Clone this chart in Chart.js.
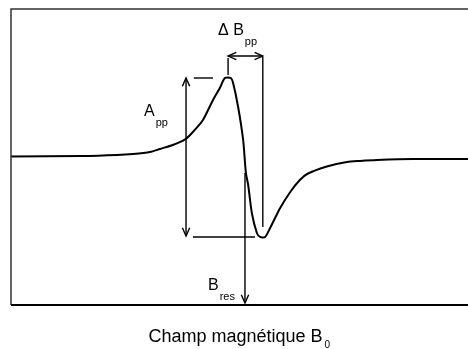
<!DOCTYPE html>
<html>
<head>
<meta charset="utf-8">
<script src="https://cdn.jsdelivr.net/npm/chart.js@4"></script>
<style>
  html, body { margin: 0; padding: 0; background: #fff; }
  #wrap { width: 468px; height: 349px; }
</style>
</head>
<body>
<div id="wrap"><canvas id="eprChart"></canvas></div>
<script>
// champ (unités arbitraires) et signal dérivé
const fieldValues = [0, 15.5, 23.2, 26.7, 30.4, 32.6, 35.4, 38.1, 39.8, 42.0, 44.2, 45.7, 46.8, 48.1,
    48.6, 49.7, 50.8, 51.4, 51.9, 52.7, 53.8, 54.5, 55.6, 56.7, 58.9, 61.1, 63.2, 64.8, 69.1, 73.5,
    76.4, 80.1, 88.0, 100];
const signalValues = [0, 0.006, 0.019, 0.032, 0.057, 0.096, 0.146, 0.217, 0.312, 0.465, 0.72, 0.873, 1.0, 1.0,
    0.936, 0.631, 0.21, -0.21, -0.363, -0.72, -0.975, -1.025, -1.025, -0.91, -0.656, -0.452, -0.30, -0.223, -0.127, -0.07,
    -0.057, -0.045, -0.032, -0.032];

// traits d'annotation : [x1, y1, x2, y2, flèche début, flèche fin]
const guideLines = [
    [38.3, 1.0, 38.3, -1.013, true, true],     // A_pp
    [40.0, 1.0, 44.2, 1.0, false, false],      // repère haut
    [39.8, -1.025, 53.4, -1.025, false, false],// repère bas
    [47.5, 1.255, 47.5, 1.038, false, false],  // petit trait ΔBpp
    [55.1, 1.268, 55.1, -0.898, false, false], // trait vertical ΔBpp
    [47.5, 1.28, 55.1, 1.28, true, true],      // ΔBpp
    [51.2, -0.21, 51.2, -1.866, false, true]   // B_res
];
// étiquettes : [texte, indice, x, y]
const guideLabels = [
    ['A', 'pp', 29.1, 0.517],
    ['\u0394 B', 'pp', 45.3, 1.552],
    ['B', 'res', 43.1, -1.695]
];
const axisTitle = ['Champ magn\u00e9tique B', '0'];

const font = '"Liberation Sans", Arial, sans-serif';

function arrowHead(g, x1, y1, x2, y2) {
    const a = Math.atan2(y2 - y1, x2 - x1);
    const len = 9, spread = 0.42;
    g.beginPath();
    g.moveTo(x2 - len * Math.cos(a - spread), y2 - len * Math.sin(a - spread));
    g.lineTo(x2, y2);
    g.lineTo(x2 - len * Math.cos(a + spread), y2 - len * Math.sin(a + spread));
    g.stroke();
}

const annotationPlugin = {
    id: 'eprAnnotations',
    afterDatasetsDraw(chart) {
        const g = chart.ctx;
        const xs = chart.scales.x, ys = chart.scales.y;
        const area = chart.chartArea;
        g.save();
        g.strokeStyle = '#000';
        g.lineCap = 'butt';
        // cadre (sans bord droit)
        g.lineWidth = 1.5;
        g.strokeStyle = '#333';
        g.beginPath();
        g.moveTo(area.right, area.top);
        g.lineTo(area.left, area.top);
        g.lineTo(area.left, area.bottom);
        g.stroke();
        g.lineWidth = 2;
        g.strokeStyle = '#000';
        g.beginPath();
        g.moveTo(area.left, area.bottom);
        g.lineTo(area.right, area.bottom);
        g.stroke();

        g.lineWidth = 1.4;
        guideLines.forEach(l => {
            const x1 = xs.getPixelForValue(l[0]), y1 = ys.getPixelForValue(l[1]);
            const x2 = xs.getPixelForValue(l[2]), y2 = ys.getPixelForValue(l[3]);
            g.beginPath();
            g.moveTo(x1, y1);
            g.lineTo(x2, y2);
            g.stroke();
            if (l[4]) arrowHead(g, x2, y2, x1, y1);
            if (l[5]) arrowHead(g, x1, y1, x2, y2);
        });

        g.fillStyle = '#000';
        g.textBaseline = 'alphabetic';
        guideLabels.forEach(t => {
            const x = xs.getPixelForValue(t[2]), y = ys.getPixelForValue(t[3]);
            g.font = '16px ' + font;
            g.fillText(t[0], x, y);
            const w = g.measureText(t[0]).width;
            g.font = '11px ' + font;
            g.fillText(t[1], x + w + 1, y + 10);
        });

        // titre de l'axe
        g.font = '18px ' + font;
        const w0 = g.measureText(axisTitle[0]).width;
        const tx = (area.left + area.right) / 2 - w0 / 2 - 4;
        g.fillText(axisTitle[0], tx, 342);
        g.font = '10px ' + font;
        g.fillText(axisTitle[1], tx + w0 + 2, 348);
        g.restore();
    }
};

const ctx = document.getElementById('eprChart').getContext('2d');
const chart = new Chart(ctx, {
    type: 'line',
    data: {
        labels: fieldValues,
        datasets: [{
            data: fieldValues.map((x, i) => ({ x: x, y: signalValues[i] })),
            borderColor: '#000',
            borderWidth: 2,
            pointRadius: 0,
            tension: 0.25,
            fill: false
        }]
    },
    options: {
        responsive: true,
        maintainAspectRatio: false,
        animation: false,
        layout: { padding: { left: 11, top: 9, right: 0, bottom: 44 } },
        plugins: { legend: { display: false }, tooltip: { enabled: false } },
        scales: {
            x: { type: 'linear', min: 0, max: 100, display: false },
            y: { min: -1.892, max: 1.879, display: false }
        }
    },
    plugins: [annotationPlugin]
});
</script>
</body>
</html>
